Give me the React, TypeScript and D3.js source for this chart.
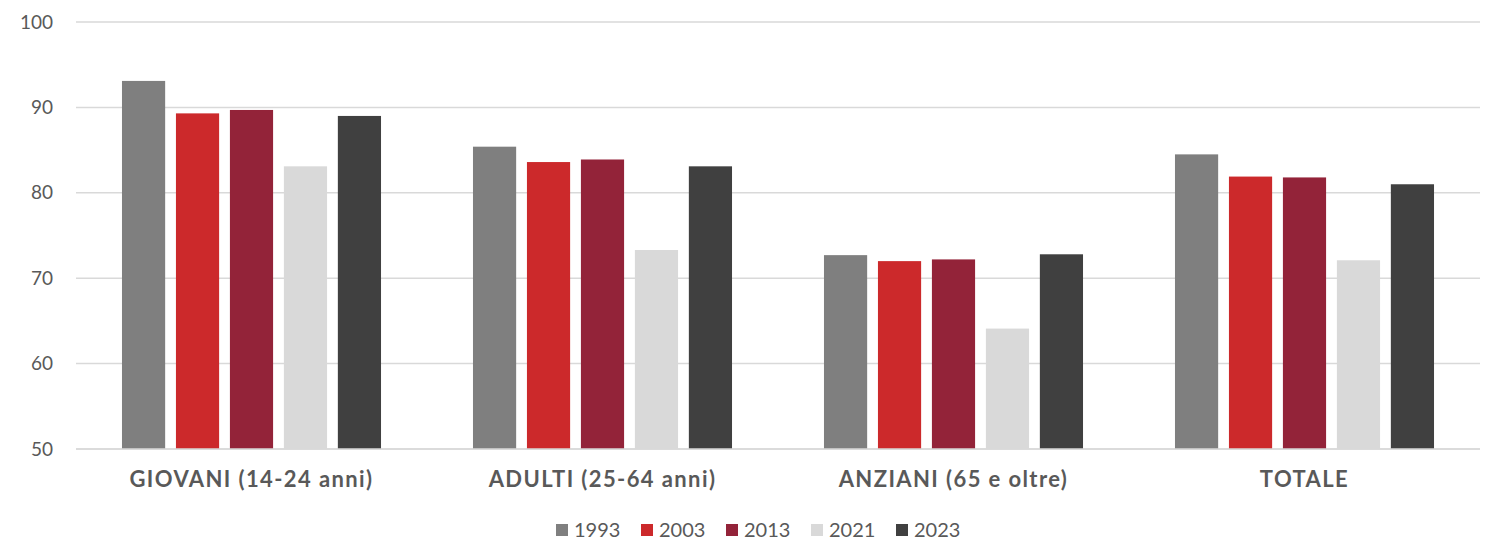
import React from "react";
import { scaleBand, scaleLinear } from "d3";

const categories = ["GIOVANI (14-24 anni)", "ADULTI (25-64 anni)", "ANZIANI (65 e oltre)", "TOTALE"];
const years = ["1993", "2003", "2013", "2021", "2023"];
const colors = ["#7f7f7f", "#cc292b", "#932339", "#d9d9d9", "#404040"];

const values1993 = [93.1, 85.4, 72.7, 84.5];
const values2003 = [89.3, 83.6, 72.0, 81.9];
const values2013 = [89.7, 83.9, 72.2, 81.8];
const values2021 = [83.1, 73.3, 64.1, 72.1];
const values2023 = [89.0, 83.1, 72.8, 81.0];
const seriesValues = [values1993, values2003, values2013, values2021, values2023];

const yTicks = [50, 60, 70, 80, 90, 100];

const W = 1488;
const H = 540;
const margin = { left: 76, right: 8, top: 22, bottom: 91 };
const font = "'Lato', 'Open Sans', sans-serif";

export default function App() {
  const x0 = scaleBand()
    .domain(categories)
    .range([margin.left, W - margin.right])
    .paddingInner(0.262)
    .paddingOuter(0.131);
  const x1 = scaleBand().domain(years).range([0, x0.bandwidth()]).paddingInner(0.2);
  const y = scaleLinear().domain([50, 100]).range([H - margin.bottom, margin.top]);

  const legendStep = 85;
  const legendStart = 556;

  return (
    <svg
      width={W}
      height={H}
      style={{ position: "fixed", left: 0, top: 0, background: "#fff" }}
      fontFamily={font}
    >
      {yTicks.map((t) => (
        <g key={t}>
          <line x1={margin.left} x2={W - margin.right} y1={y(t)} y2={y(t)} stroke="#d9d9d9" strokeWidth={1.5} />
          <text x={53} y={y(t)} dy="0.35em" textAnchor="end" fontSize={19} fill="#595959">
            {t}
          </text>
        </g>
      ))}
      {categories.map((c, ci) => (
        <g key={c} transform={`translate(${x0(c)},0)`}>
          {years.map((yr, si) => {
            const v = seriesValues[si][ci];
            return (
              <rect
                key={yr}
                x={x1(yr)}
                y={y(v)}
                width={x1.bandwidth()}
                height={y(50) - y(v)}
                fill={colors[si]}
              />
            );
          })}
          <text
            x={x0.bandwidth() / 2}
            y={487}
            textAnchor="middle"
            fontSize={22}
            letterSpacing={1.4}
            fontWeight="bold"
            fill="#595959"
          >
            {c}
          </text>
        </g>
      ))}
      <line x1={margin.left} x2={W - margin.right} y1={y(50)} y2={y(50)} stroke="#d9d9d9" strokeWidth={1.5} />
      {years.map((yr, i) => (
        <g key={yr} transform={`translate(${legendStart + i * legendStep},0)`}>
          <rect x={0} y={524} width={12} height={12} fill={colors[i]} />
          <text x={18} y={530} dy="0.35em" fontSize={20} fill="#595959">
            {yr}
          </text>
        </g>
      ))}
    </svg>
  );
}
